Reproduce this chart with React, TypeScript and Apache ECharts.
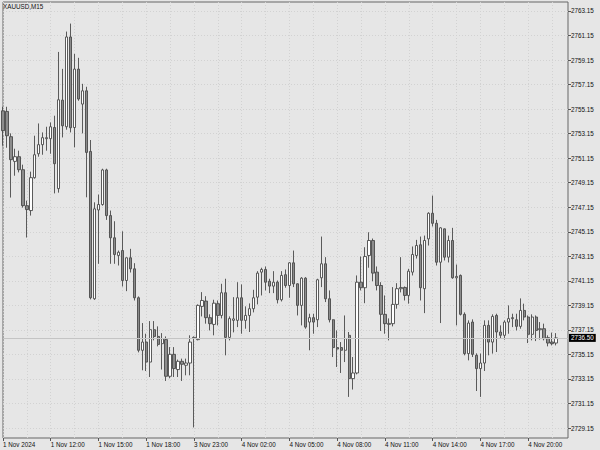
import React, { useEffect, useRef } from "react";
import * as echarts from "echarts";

const chartTitle = "XAUUSD,M15";
const firstDateLabel = "1 Nov 2024";

// bar sessions (M15 bars): Friday 1 Nov from 09:00, then from Sunday 3 Nov 23:00
const sessions = [
  { day: 1, startMinute: 9 * 60, count: 48 },
  { day: 3, startMinute: 23 * 60, count: 95 },
];

const opens = [
  2755.01, 2754.96, 2752.90, 2750.89, 2751.27, 2750.21, 2747.28, 2746.88, 2749.56, 2751.51,
  2752.25, 2752.74, 2752.74, 2753.65, 2748.67, 2755.88, 2753.71, 2761.03, 2753.65, 2758.41,
  2755.56, 2756.64, 2751.70, 2739.69, 2746.93, 2747.37, 2750.19, 2746.47, 2744.66, 2743.22,
  2743.62, 2741.18, 2743.03, 2742.13, 2739.77, 2735.49, 2736.16, 2734.53, 2737.17, 2736.62,
  2736.03, 2736.36, 2733.37, 2735.16, 2733.92, 2734.59, 2734.27, 2734.45, 2736.46, 2736.36,
  2739.07, 2739.50, 2738.15, 2737.60, 2739.29, 2738.33, 2740.18, 2736.54, 2737.93, 2737.93,
  2739.77, 2737.93, 2738.33, 2738.88, 2739.82, 2741.86, 2742.08, 2741.12, 2740.72, 2741.04,
  2739.61, 2741.65, 2740.77, 2742.62, 2740.91, 2739.15, 2741.37, 2737.79, 2738.15, 2737.98,
  2741.40, 2742.54, 2739.69, 2737.98, 2735.71, 2735.71, 2735.49, 2736.71, 2733.18, 2733.64,
  2741.04, 2740.59, 2743.22, 2744.44, 2741.86, 2740.77, 2738.42, 2737.60, 2737.66, 2739.23,
  2740.51, 2740.61, 2739.96, 2741.86, 2743.22, 2744.09, 2740.51, 2744.57, 2746.66, 2745.84,
  2742.67, 2745.39, 2743.08, 2744.44, 2741.40, 2741.59, 2738.42, 2735.22, 2737.79, 2735.08,
  2734.00, 2734.45, 2737.52, 2736.16, 2738.33, 2736.98, 2736.71, 2737.79, 2738.07, 2737.98,
  2737.44, 2738.74, 2738.20, 2736.79, 2738.20, 2737.17, 2737.25, 2736.52, 2736.16, 2736.08,
];

const closes = [
  2753.39, 2752.98, 2751.03, 2751.27, 2750.21, 2747.28, 2746.96, 2749.56, 2751.43, 2752.25,
  2752.82, 2752.82, 2753.71, 2750.70, 2755.91, 2753.79, 2761.03, 2753.63, 2758.41, 2755.97,
  2756.64, 2751.62, 2739.77, 2747.02, 2747.37, 2750.19, 2746.47, 2744.66, 2743.30, 2743.48,
  2741.18, 2743.03, 2742.13, 2739.77, 2735.49, 2736.16, 2734.53, 2737.17, 2736.62, 2735.97,
  2736.44, 2733.37, 2735.16, 2734.00, 2734.59, 2734.35, 2734.45, 2736.16, 2736.54, 2739.15,
  2739.55, 2738.15, 2737.66, 2739.33, 2738.33, 2740.18, 2736.54, 2738.07, 2738.05, 2739.77,
  2737.93, 2738.33, 2738.88, 2739.77, 2741.78, 2742.08, 2741.04, 2740.72, 2741.04, 2739.61,
  2741.59, 2740.77, 2742.62, 2740.91, 2739.15, 2741.37, 2737.38, 2738.15, 2737.79, 2741.24,
  2742.54, 2739.69, 2737.98, 2735.71, 2735.59, 2735.49, 2736.44, 2733.18, 2733.64, 2741.04,
  2740.59, 2743.13, 2744.44, 2741.78, 2740.77, 2738.42, 2737.66, 2737.68, 2739.23, 2740.51,
  2740.61, 2739.96, 2741.94, 2743.30, 2744.03, 2740.59, 2744.44, 2746.66, 2745.84, 2742.67,
  2745.47, 2743.08, 2744.44, 2741.40, 2741.51, 2738.42, 2735.22, 2737.71, 2735.16, 2734.00,
  2734.45, 2737.52, 2736.16, 2738.25, 2736.98, 2736.71, 2737.79, 2738.07, 2738.15, 2737.44,
  2738.74, 2738.20, 2736.79, 2738.20, 2737.11, 2737.25, 2736.44, 2736.08, 2736.03, 2736.50,
];

const lows = [
  2752.17, 2752.00, 2747.94, 2749.72, 2749.99, 2747.12, 2744.68, 2746.47, 2749.48, 2751.27,
  2751.43, 2751.76, 2751.51, 2748.28, 2748.34, 2752.84, 2753.47, 2753.25, 2752.03, 2755.83,
  2753.17, 2747.96, 2739.64, 2739.60, 2742.54, 2747.28, 2746.12, 2742.54, 2742.54, 2742.40,
  2740.69, 2740.31, 2741.83, 2739.55, 2735.32, 2733.86, 2733.80, 2733.31, 2736.30, 2735.81,
  2733.92, 2732.99, 2733.21, 2733.31, 2733.31, 2732.99, 2733.45, 2733.45, 2729.20, 2736.30,
  2738.25, 2737.66, 2737.11, 2736.71, 2737.52, 2738.09, 2735.08, 2736.30, 2736.95, 2737.38,
  2736.84, 2737.25, 2736.98, 2738.58, 2739.23, 2739.96, 2740.37, 2740.15, 2740.15, 2739.31,
  2739.47, 2740.59, 2739.77, 2740.64, 2738.33, 2737.52, 2737.25, 2735.49, 2736.84, 2737.38,
  2740.64, 2739.42, 2737.76, 2734.94, 2734.13, 2733.64, 2734.53, 2731.69, 2732.29, 2733.53,
  2740.37, 2739.33, 2742.22, 2741.12, 2740.37, 2737.06, 2736.84, 2736.30, 2737.44, 2738.88,
  2740.21, 2739.55, 2739.29, 2741.59, 2742.97, 2739.55, 2738.52, 2744.03, 2745.58, 2742.40,
  2737.71, 2742.81, 2742.65, 2741.32, 2737.52, 2738.33, 2735.08, 2734.67, 2734.94, 2732.17,
  2731.69, 2733.80, 2735.08, 2735.22, 2735.35, 2736.46, 2736.36, 2736.84, 2737.38, 2737.11,
  2737.25, 2737.93, 2736.08, 2736.30, 2736.24, 2736.36, 2736.30, 2735.81, 2735.89, 2735.89,
];

const highs = [
  2755.34, 2755.34, 2753.17, 2751.92, 2751.76, 2750.62, 2747.69, 2750.05, 2752.98, 2753.98,
  2753.25, 2753.71, 2754.06, 2754.61, 2759.81, 2758.43, 2761.47, 2762.12, 2759.65, 2759.33,
  2757.21, 2756.97, 2752.63, 2747.55, 2748.18, 2750.29, 2750.29, 2746.88, 2746.01, 2743.62,
  2745.19, 2743.05, 2743.76, 2742.59, 2739.88, 2737.71, 2736.84, 2737.87, 2737.87, 2737.44,
  2736.89, 2736.62, 2735.75, 2735.75, 2734.73, 2734.81, 2734.81, 2736.71, 2736.62, 2739.23,
  2740.23, 2739.90, 2738.42, 2739.61, 2739.55, 2740.91, 2741.32, 2738.25, 2739.82, 2741.04,
  2740.86, 2739.07, 2739.31, 2740.42, 2741.94, 2742.22, 2742.32, 2741.32, 2741.94, 2741.18,
  2741.94, 2742.08, 2742.67, 2743.62, 2740.94, 2741.45, 2741.45, 2738.47, 2738.47, 2741.32,
  2744.76, 2743.08, 2740.37, 2738.01, 2737.11, 2736.16, 2738.33, 2736.98, 2734.94, 2741.59,
  2743.13, 2743.89, 2745.11, 2744.60, 2742.32, 2741.04, 2739.96, 2738.09, 2740.64, 2740.96,
  2743.08, 2740.69, 2742.13, 2743.95, 2744.49, 2744.76, 2744.84, 2746.74, 2748.10, 2746.12,
  2745.52, 2745.41, 2744.84, 2745.47, 2742.48, 2741.67, 2738.58, 2737.93, 2738.01, 2735.24,
  2735.22, 2737.93, 2737.93, 2738.42, 2738.47, 2737.52, 2737.93, 2739.15, 2738.47, 2738.47,
  2739.72, 2739.29, 2738.33, 2738.42, 2738.33, 2737.79, 2737.66, 2736.71, 2736.93, 2736.89,
];

const priceTicks = [
  2729.15, 2731.15, 2733.15, 2735.15, 2737.15, 2739.15, 2741.15, 2743.15, 2745.15,
  2747.15, 2749.15, 2751.15, 2753.15, 2755.15, 2757.15, 2759.15, 2761.15, 2763.15,
];
const priceMin = 2728.34;
const priceMax = 2763.88;

function pad2(n: number) {
  return n < 10 ? "0" + n : String(n);
}

function buildCategories() {
  const out: string[] = [];
  sessions.forEach((s) => {
    for (let k = 0; k < s.count; k++) {
      const m = s.startMinute + 15 * k;
      const day = s.day + Math.floor(m / 1440);
      const mm = m % 1440;
      out.push(`${day} Nov ${pad2(Math.floor(mm / 60))}:${pad2(mm % 60)}`);
    }
  });
  return out;
}

const FONT = "'Liberation Sans', Arial, sans-serif";

export default function App() {
  const ref = useRef<HTMLDivElement>(null);
  useEffect(() => {
    if (!ref.current) return;
    const chart = echarts.init(ref.current, undefined, { renderer: "svg" });
    const categories = buildCategories();
    const candles = opens.map((o, i) => [o, closes[i], lows[i], highs[i]]);
    const lastClose = closes[closes.length - 1];
    chart.setOption({
      animation: false,
      backgroundColor: "#e6e6e6",
      title: {
        text: chartTitle,
        left: 3,
        top: 3,
        padding: 0,
        textStyle: { fontSize: 6.3, fontWeight: "normal", color: "#111", fontFamily: FONT },
      },
      grid: {
        left: 2,
        right: 32,
        top: 2,
        bottom: 12,
        show: true,
        borderColor: "#666",
        borderWidth: 1,
        backgroundColor: "transparent",
      },
      xAxis: {
        type: "category",
        data: categories,
        boundaryGap: false,
        axisLine: { show: false },
        axisTick: { show: true, interval: 11, length: 3, lineStyle: { color: "#555" } },
        axisLabel: {
          interval: 11,
          align: "left",
          fontSize: 6.3,
          color: "#111",
          margin: 3,
          fontFamily: FONT,
          formatter: (v: string, idx: number) => (idx === 0 ? firstDateLabel : v),
        },
        splitLine: { show: true, interval: 5, lineStyle: { type: [1, 2], color: "#d2d2d2" } },
      },
      yAxis: {
        type: "value",
        position: "right",
        min: priceMin,
        max: priceMax,
        scale: true,
        axisLine: { show: false },
        axisTick: { show: true, length: 3, lineStyle: { color: "#555" }, customValues: priceTicks },
        axisLabel: {
          customValues: priceTicks,
          formatter: (v: number) => v.toFixed(2),
          fontSize: 6.3,
          color: "#111",
          margin: 3,
          fontFamily: FONT,
        },
        splitLine: { show: true, lineStyle: { type: [1, 2], color: "#d2d2d2" } },
      },
      series: [
        {
          type: "candlestick",
          data: candles,
          barWidth: 2.8,
          itemStyle: {
            color: "#ffffff",
            color0: "#8c8c8c",
            borderColor: "#4a4a4a",
            borderColor0: "#4a4a4a",
            borderWidth: 0.9,
          },
          markLine: {
            silent: true,
            symbol: ["none", "none"],
            lineStyle: { color: "#c4c4c4", type: "solid", width: 1 },
            label: {
              show: true,
              position: "end",
              distance: 1,
              formatter: () => lastClose.toFixed(2),
              backgroundColor: "#000",
              color: "#fff",
              padding: [1, 2],
              fontSize: 6.3,
              fontFamily: FONT,
            },
            data: [{ yAxis: lastClose }],
          },
        },
      ],
    });
    return () => chart.dispose();
  }, []);
  return (
    <div
      ref={ref}
      style={{ position: "fixed", left: 0, top: 0, width: 600, height: 450 }}
    />
  );
}
